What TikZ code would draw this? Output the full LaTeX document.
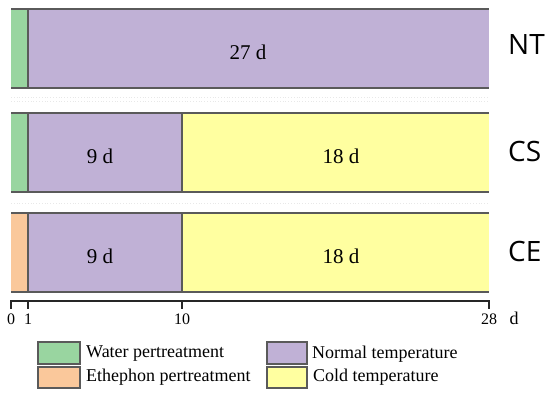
\documentclass[tikz,border=0pt]{standalone}
\usepackage{fontspec}
\setmainfont{Liberation Serif}
\newfontfamily\labfont{Open Sans}
\definecolor{cgreen}{RGB}{153,213,160}
\definecolor{cpurple}{RGB}{192,177,214}
\definecolor{cyellow}{RGB}{255,255,160}
\definecolor{corange}{RGB}{250,200,155}
\definecolor{cline}{RGB}{90,90,90}
\begin{document}
\begin{tikzpicture}[x=1pt,y=-1pt,
  barline/.style={draw=cline,line width=1.8pt},
  divline/.style={draw=cline,line width=1.4pt},
  faint/.style={draw=gray!18,dotted,line width=0.8pt},
  bartext/.style={font=\fontsize{21}{24}\selectfont,inner sep=0pt},
  rowlab/.style={font=\labfont\fontsize{28}{32}\selectfont,inner sep=0pt,anchor=west},
  axlab/.style={font=\fontsize{16}{19}\selectfont,inner sep=0pt},
  axisline/.style={draw=black!85,line width=1.2pt},
  legbox/.style={draw=cline,line width=1.2pt},
  legtext/.style={font=\fontsize{18}{21}\selectfont,inner sep=0pt,anchor=west}]
\useasboundingbox (0,0) rectangle (550,395);
% faint separators
\draw[faint] (11,97) -- (489,97);
\draw[faint] (11,101) -- (489,101);
\draw[faint] (11,203) -- (489,203);
% Row NT
\fill[cgreen] (11,9) rectangle (28,88);
\fill[cpurple] (28,9) rectangle (489,88);
\draw[barline] (11,9) -- (489,9);
\draw[barline] (11,88) -- (489,88);
\draw[divline] (28,9) -- (28,88);
\node[bartext] (nt27) at (248,52) {27 d};
\node[rowlab] (ntl) at (508,45) {NT};
% Row CS
\fill[cgreen] (11,113) rectangle (28,192);
\fill[cpurple] (28,113) rectangle (182,192);
\fill[cyellow] (182,113) rectangle (489,192);
\draw[barline] (11,113) -- (489,113);
\draw[barline] (11,192) -- (489,192);
\draw[divline] (28,113) -- (28,192);
\draw[divline] (182,113) -- (182,192);
\node[bartext] (cs9) at (100,156) {9 d};
\node[bartext] (cs18) at (341,156) {18 d};
\node[rowlab] (csl) at (508,152) {CS};
% Row CE
\fill[corange] (11,213) rectangle (28,292);
\fill[cpurple] (28,213) rectangle (182,292);
\fill[cyellow] (182,213) rectangle (489,292);
\draw[barline] (11,213) -- (489,213);
\draw[barline] (11,292) -- (489,292);
\draw[divline] (28,213) -- (28,292);
\draw[divline] (182,213) -- (182,292);
\node[bartext] (ce9) at (100,256) {9 d};
\node[bartext] (ce18) at (341,256) {18 d};
\node[rowlab] (cel) at (508,252) {CE};
% axis
\coordinate (a0) at (11,301);
\coordinate (a28) at (489,301);
\coordinate (a1) at (28,301);
\coordinate (a10) at (182,301);
\draw[axisline] ([yshift=-8pt]a0) -- (a0) -- (a28) -- ([yshift=-8pt]a28);
\draw[axisline] (a1) -- ([yshift=-8pt]a1);
\draw[axisline] (a10) -- ([yshift=-8pt]a10);
\node[axlab] (l0) at (11,319) {0};
\node[axlab] (l1) at (28,319) {1};
\node[axlab] (l10) at (182,319) {10};
\node[axlab] (l28) at (489,319) {28};
\node[axlab,font=\fontsize{18}{21}\selectfont] (ld) at (514,318) {d};
% legend
\draw[legbox,fill=cgreen] (38,342) rectangle (80,364);
\draw[legbox,fill=corange] (38,367) rectangle (80,388);
\draw[legbox,fill=cpurple] (267,342) rectangle (307,364);
\draw[legbox,fill=cyellow] (267,367) rectangle (307,388);
\node[legtext] (lw) at (86,354) {Water pertreatment};
\node[legtext] (le) at (86,377) {Ethephon pertreatment};
\node[legtext] (ln) at (312,354) {Normal temperature};
\node[legtext] (lc) at (313,377) {Cold temperature};
\end{tikzpicture}
\end{document}
